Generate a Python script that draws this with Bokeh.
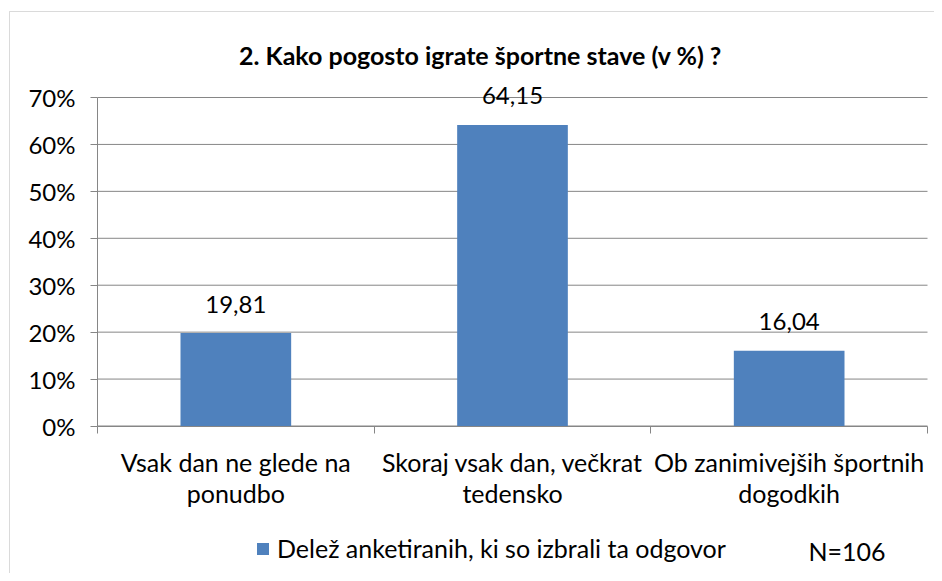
from bokeh.plotting import figure
from bokeh.models import (Range1d, FixedTicker, PrintfTickFormatter, LabelSet, Label,
                          ColumnDataSource, Legend, LegendItem, BoxAnnotation)
from bokeh.core.properties import value
from bokeh.embed import file_html
from bokeh.resources import INLINE

# ---- data ----
title_text = "2. Kako pogosto igrate športne stave (v %) ?"
categories = ["Vsak dan ne glede na\nponudbo",
              "Skoraj vsak dan, večkrat\ntedensko",
              "Ob zanimivejših športnih\ndogodkih"]
values = [19.81, 64.15, 16.04]
y_ticks = [0, 10, 20, 30, 40, 50, 60, 70]
series_name = "Delež anketiranih, ki so izbrali ta odgovor"
note_text = "N=106"

FONT = "Lato"
GRAY = "#868686"
BLUE = "#4F81BD"

W, H = 934, 573
# pixel geometry of the plotting area inside the canvas
AX_L, AX_R, AX_T, AX_B = 97, 927, 97, 425.5

n = len(categories)
ymax = y_ticks[-1]
xs = n / (AX_R - AX_L)        # data units per px (x)
ys = ymax / (AX_B - AX_T)     # data units per px (y)

centers = [i + 0.5 for i in range(n)]
bounds = [float(i) for i in range(n + 1)]
labels_txt = [f"{v:.2f}".replace(".", ",") for v in values]

p = figure(width=W, height=H, output_backend="svg", toolbar_location=None,
           x_range=Range1d(-AX_L * xs, n + (W - AX_R) * xs),
           y_range=Range1d(-(H - AX_B) * ys, ymax + AX_T * ys),
           min_border=0)
p.title.visible = False
p.outline_line_color = None
p.background_fill_color = "white"
p.border_fill_color = "white"
p.xgrid.visible = False
p.ygrid.visible = False

# outer chart border
p.add_layout(BoxAnnotation(left=9, right=3000, top=H - 11, bottom=-3000,
                           left_units="screen", right_units="screen",
                           top_units="screen", bottom_units="screen",
                           fill_color=None, line_color=GRAY, line_width=1))

# horizontal gridlines
p.segment(x0=[0] * len(y_ticks), x1=[n] * len(y_ticks), y0=y_ticks, y1=y_ticks,
          line_color=GRAY, line_width=1)

src = ColumnDataSource(dict(x=centers, top=values, lab=labels_txt))
r = p.vbar(x="x", top="top", width=0.4, source=src, fill_color=BLUE, line_color=None)

ls = LabelSet(x="x", y="top", text="lab", source=src, y_offset=29, text_align="center",
              text_baseline="middle", text_font=value(FONT), text_font_size="24px",
              text_color="black")
p.add_layout(ls)

# axes
xa = p.xaxis[0]
xa.fixed_location = 0
xa.bounds = (0, n)
xa.ticker = FixedTicker(ticks=centers, minor_ticks=bounds)
xa.major_label_overrides = {c: lab for c, lab in zip(centers, categories)}
xa.major_tick_out = 0
xa.major_tick_in = 0
xa.minor_tick_out = 7
xa.minor_tick_in = 0
xa.minor_tick_line_color = GRAY
xa.axis_line_color = GRAY
xa.major_label_text_font = FONT
xa.major_label_text_font_size = "25px"
xa.major_label_text_color = "black"
xa.major_label_text_line_height = 1.03
xa.major_label_standoff = 14

ya = p.yaxis[0]
ya.fixed_location = 0
ya.bounds = (0, ymax)
ya.ticker = FixedTicker(ticks=y_ticks)
ya.formatter = PrintfTickFormatter(format="%d%%")
ya.major_tick_out = 7
ya.major_tick_in = 0
ya.minor_tick_line_color = None
ya.major_tick_line_color = GRAY
ya.axis_line_color = GRAY
ya.major_label_text_font = FONT
ya.major_label_text_font_size = "24px"
ya.major_label_text_color = "black"
ya.major_label_standoff = 15

# title
p.add_layout(Label(x=480, y=H - 54, x_units="screen", y_units="screen", text=title_text,
                   text_align="center", text_baseline="middle", text_font=FONT,
                   text_font_size="25px", text_font_style="bold", text_color="black"))

# note
p.add_layout(Label(x=808, y=H - 550, x_units="screen", y_units="screen", text=note_text,
                   text_align="left", text_baseline="middle", text_font=FONT,
                   text_font_size="25px", text_color="black"))

# legend
leg = Legend(items=[LegendItem(label=series_name, renderers=[r])], location=(255, H - 563),
             orientation="horizontal", glyph_width=15, glyph_height=15, label_standoff=7,
             padding=0, margin=0, border_line_color=None, background_fill_alpha=0,
             label_text_font=FONT, label_text_font_size="25px", label_text_color="black",
             label_height=26)
p.add_layout(leg, "center")

open("out.html", "w").write(file_html(p, INLINE))
